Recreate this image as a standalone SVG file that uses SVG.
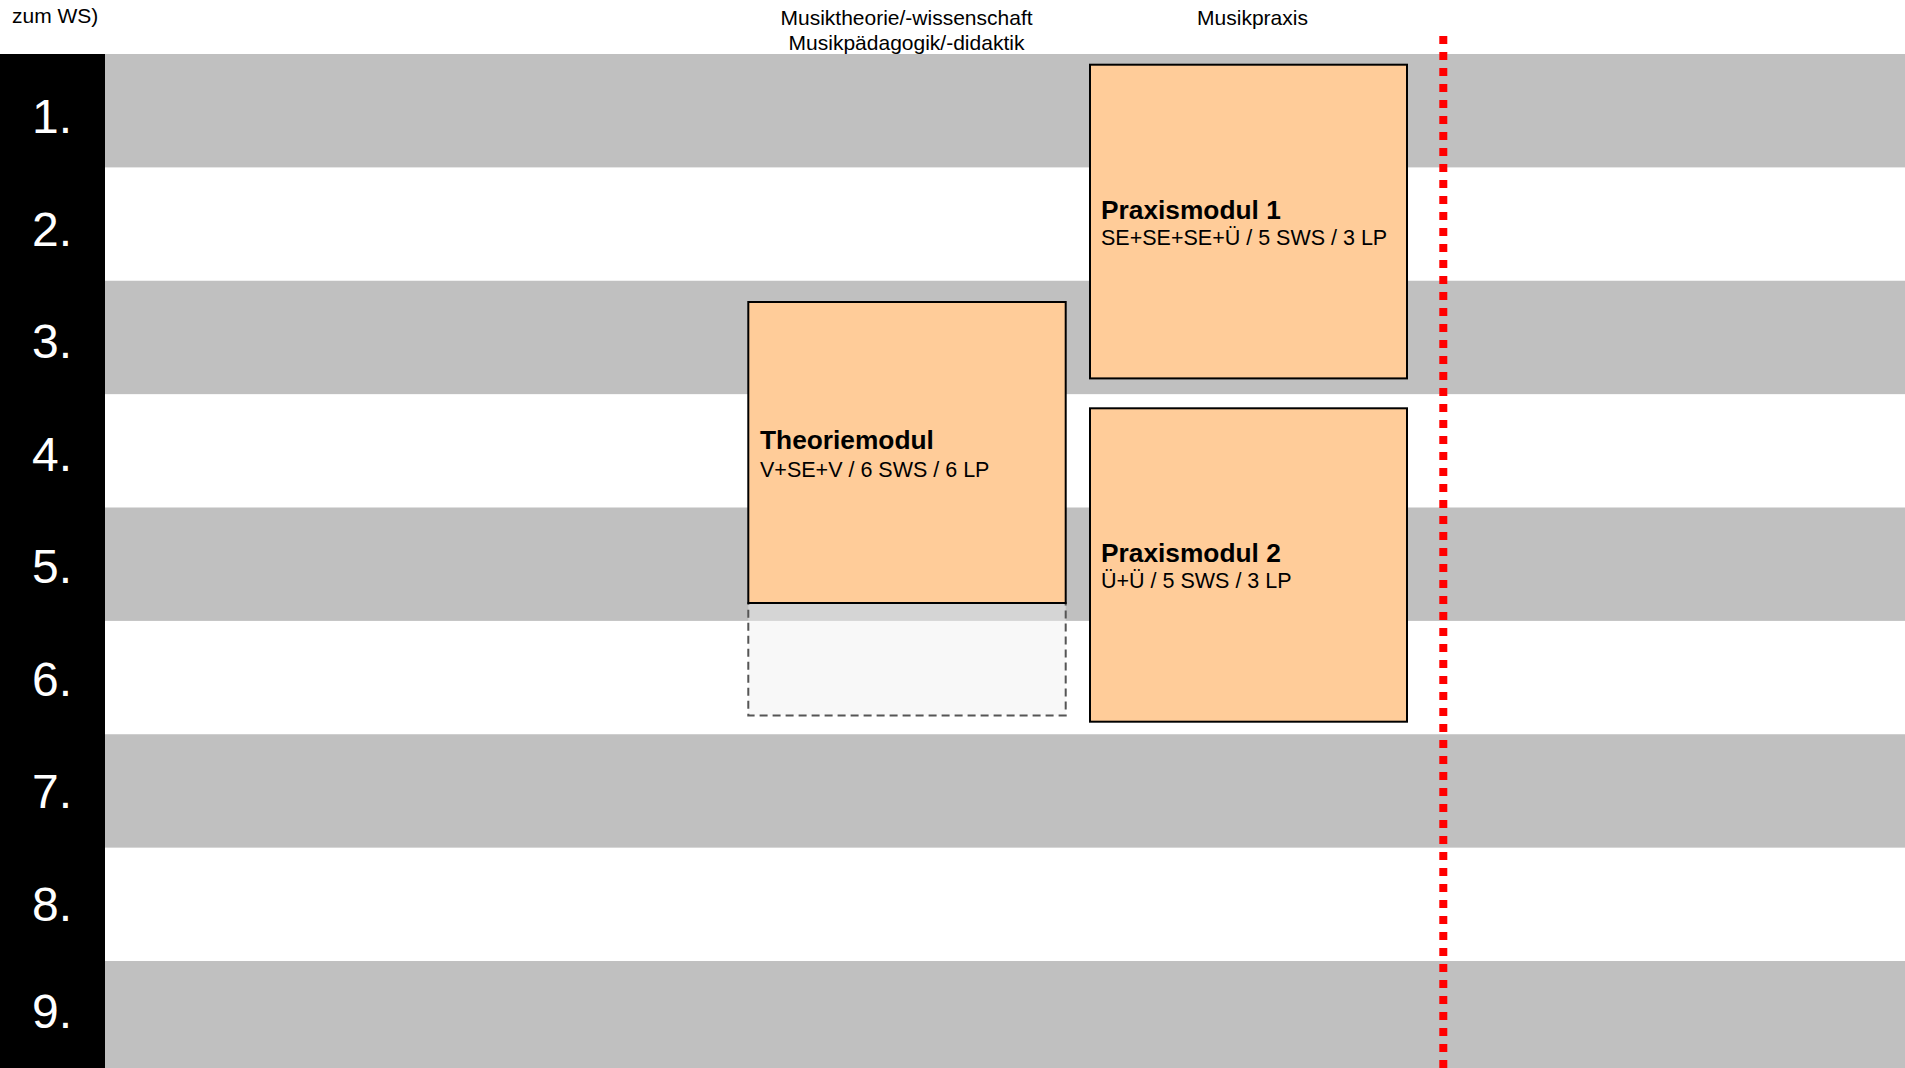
<svg xmlns="http://www.w3.org/2000/svg" width="1905" height="1068" viewBox="0 0 1905 1068">
<style>
.band{fill:#c0c0c0}
.num{font-family:"Liberation Sans",Arial,sans-serif;font-size:48px;fill:#ffffff;text-anchor:middle}
.hdr{font-family:"Liberation Sans",Arial,sans-serif;font-size:21px;fill:#000000}
.mod{fill:#ffcc99;stroke:#000000;stroke-width:2}
.ttl{font-family:"Liberation Sans",Arial,sans-serif;font-size:26.3px;font-weight:bold;fill:#000000}
.sub{font-family:"Liberation Sans",Arial,sans-serif;font-size:21.5px;fill:#000000}
</style>
<rect x="0" y="0" width="1905" height="1068" fill="#ffffff"/>
<g id="bands">
<rect class="band" x="105" y="54" width="1800" height="113.4"/>
<rect class="band" x="105" y="280.75" width="1800" height="113.4"/>
<rect class="band" x="105" y="507.5" width="1800" height="113.4"/>
<rect class="band" x="105" y="734.25" width="1800" height="113.4"/>
<rect class="band" x="105" y="961" width="1800" height="107"/>
</g>
<g id="semester-column">
<rect x="0" y="54" width="105" height="1014" fill="#000000"/>
<text class="num" x="52" y="133">1.</text>
<text class="num" x="52" y="246">2.</text>
<text class="num" x="52" y="358">3.</text>
<text class="num" x="52" y="471">4.</text>
<text class="num" x="52" y="583">5.</text>
<text class="num" x="52" y="696">6.</text>
<text class="num" x="52" y="808">7.</text>
<text class="num" x="52" y="921">8.</text>
<text class="num" x="52" y="1028">9.</text>
</g>
<g id="headers">
<text class="hdr" x="12" y="23">zum WS)</text>
<text class="hdr" x="906.5" y="24.5" text-anchor="middle">Musiktheorie/-wissenschaft</text>
<text class="hdr" x="906.5" y="49.5" text-anchor="middle">Musikpädagogik/-didaktik</text>
<text class="hdr" x="1252.5" y="25" text-anchor="middle">Musikpraxis</text>
</g>
<g id="theorie-extension">
<rect x="748.3" y="603" width="317.4" height="112.5" fill="#efefef" fill-opacity="0.44" stroke="#555555" stroke-width="2" stroke-dasharray="8 5"/>
</g>
<g id="theoriemodul">
<rect class="mod" x="748.3" y="302" width="317.4" height="301"/>
<text class="ttl" x="760" y="449.3">Theoriemodul</text>
<text class="sub" x="760" y="476.5">V+SE+V / 6 SWS / 6 LP</text>
</g>
<g id="praxismodul-1">
<rect class="mod" x="1090" y="64.7" width="317" height="313.7"/>
<text class="ttl" x="1101" y="219">Praxismodul 1</text>
<text class="sub" x="1101" y="245">SE+SE+SE+Ü / 5 SWS / 3 LP</text>
</g>
<g id="praxismodul-2">
<rect class="mod" x="1090" y="408.3" width="317" height="313.4"/>
<text class="ttl" x="1101" y="561.7">Praxismodul 2</text>
<text class="sub" x="1101" y="588">Ü+Ü / 5 SWS / 3 LP</text>
</g>
<g id="connectors">
<line x1="1443.3" y1="36" x2="1443.3" y2="1068" stroke="#ff0000" stroke-width="8" stroke-dasharray="8 8"/>
</g>
</svg>
